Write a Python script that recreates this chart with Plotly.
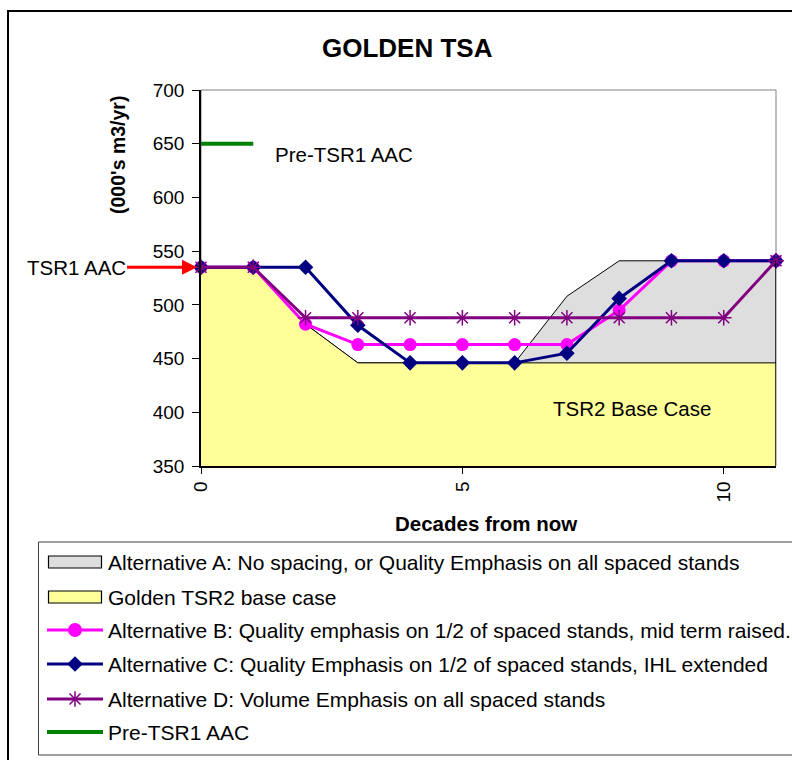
import plotly.graph_objects as go

# ---- data -------------------------------------------------------------
decades = [0, 1, 2, 3, 4, 5, 6, 7, 8, 9, 10, 11]
alt_a = [535, 535, 482, 446, 446, 446, 446, 508, 541, 541, 541, 541]
base_case = [535, 535, 482, 446, 446, 446, 446, 446, 446, 446, 446, 446]
alt_b = [535, 535, 482, 463, 463, 463, 463, 463, 495, 541, 541, 541]
alt_c = [535, 535, 535, 481, 446, 446, 446, 455, 506, 541, 541, 541]
alt_d = [535, 535, 488, 488, 488, 488, 488, 488, 488, 488, 488, 541]
pre_tsr1_x = [0, 1]
pre_tsr1 = [650, 650]
tsr1_aac = 535

x_ticks = [0, 5, 10]
y_min, y_max, y_step = 350, 700, 50

legend_labels = [
    "Alternative A: No spacing, or Quality Emphasis on all spaced stands",
    "Golden TSR2 base case",
    "Alternative B: Quality emphasis on 1/2 of spaced stands, mid term raised.",
    "Alternative C: Quality Emphasis on 1/2 of spaced stands, IHL extended",
    "Alternative D: Volume Emphasis on all spaced stands",
    "Pre-TSR1 AAC",
]

# ---- styles -----------------------------------------------------------
W, H = 792, 760
FONT = "Liberation Sans, Arial, sans-serif"
GREY_FILL = "#DEDEDE"
YELLOW_FILL = "#FFFF99"
PINK = "#FF00FF"
NAVY = "#000080"
PURPLE = "#800080"
GREEN = "#008000"

fig = go.Figure()

# area series
fig.add_trace(go.Scatter(x=decades, y=alt_a, mode="lines", fill="tozeroy",
                         fillcolor=GREY_FILL, line=dict(color="black", width=1),
                         hoverinfo="skip"))
fig.add_trace(go.Scatter(x=decades, y=base_case, mode="lines", fill="tozeroy",
                         fillcolor=YELLOW_FILL, line=dict(color="black", width=1),
                         hoverinfo="skip"))

# line series
fig.add_trace(go.Scatter(x=decades, y=alt_b, mode="lines+markers", cliponaxis=False,
                         line=dict(color=PINK, width=3),
                         marker=dict(symbol="circle", size=13, color=PINK)))
fig.add_trace(go.Scatter(x=decades, y=alt_c, mode="lines+markers", cliponaxis=False,
                         line=dict(color=NAVY, width=3),
                         marker=dict(symbol="diamond", size=12, color=NAVY)))
fig.add_trace(go.Scatter(x=decades, y=alt_d, mode="lines+markers", cliponaxis=False,
                         line=dict(color=PURPLE, width=3),
                         marker=dict(symbol="asterisk-open", size=13, color=PURPLE,
                                     line=dict(color=PURPLE, width=1.5))))
fig.add_trace(go.Scatter(x=pre_tsr1_x, y=pre_tsr1, mode="lines", cliponaxis=False,
                         line=dict(color=GREEN, width=4)))

# ---- legend drawn on a pixel-coordinate overlay -----------------------
row_y = [562, 597, 630, 664, 699, 732]
sw_x0, sw_x1, sw_mid = 47, 103, 75
text_x = 106

shapes = []
# outer chart border
shapes.append(dict(type="rect", xref="x2", yref="y2", x0=8, x1=800, y0=11, y1=800,
                   line=dict(color="black", width=2), fillcolor="rgba(0,0,0,0)"))
# legend frame
shapes.append(dict(type="rect", xref="x2", yref="y2", x0=38.5, x1=800, y0=542, y1=755,
                   line=dict(color="#404040", width=1), fillcolor="rgba(0,0,0,0)"))
# fill swatches
for yy, col in zip(row_y[:2], [GREY_FILL, YELLOW_FILL]):
    shapes.append(dict(type="rect", xref="x2", yref="y2", x0=48.5, x1=101.5,
                       y0=yy - 6, y1=yy + 6, fillcolor=col,
                       line=dict(color="black", width=1.2)))

line_rows = [
    (row_y[2], PINK, 3, dict(symbol="circle", size=14, color=PINK)),
    (row_y[3], NAVY, 3, dict(symbol="diamond", size=12, color=NAVY)),
    (row_y[4], PURPLE, 3, dict(symbol="asterisk-open", size=13, color=PURPLE,
                               line=dict(color=PURPLE, width=1.5))),
]
for yy, col, lw, mk in line_rows:
    fig.add_trace(go.Scatter(x=[sw_x0, sw_x1], y=[yy, yy], mode="lines",
                             line=dict(color=col, width=lw),
                             xaxis="x2", yaxis="y2", hoverinfo="skip"))
    fig.add_trace(go.Scatter(x=[sw_mid], y=[yy], mode="markers", marker=mk,
                             xaxis="x2", yaxis="y2", hoverinfo="skip"))
fig.add_trace(go.Scatter(x=[sw_x0, sw_x1], y=[row_y[5], row_y[5]], mode="lines",
                         line=dict(color=GREEN, width=4),
                         xaxis="x2", yaxis="y2", hoverinfo="skip"))

# plot-area frame (grey) and right edge of the area series
shapes.append(dict(type="rect", xref="x domain", yref="y domain", x0=0, x1=1, y0=0, y1=1,
                   line=dict(color="#808080", width=1), layer="below"))
shapes.append(dict(type="line", xref="x", yref="y", x0=decades[-1], x1=decades[-1],
                   y0=y_min, y1=alt_a[-1], line=dict(color="black", width=1.5)))

annotations = []
for yy, lab in zip(row_y, legend_labels):
    annotations.append(dict(xref="x2", yref="y2", x=text_x, y=yy, text=lab,
                            showarrow=False, xanchor="left", yanchor="middle",
                            font=dict(size=21)))

# titles and labels
annotations.append(dict(xref="x2", yref="y2", x=407, y=48, text="<b>GOLDEN TSA</b>",
                        showarrow=False, font=dict(size=26)))
annotations.append(dict(xref="x2", yref="y2", x=118, y=155, text="<b>(000's m3/yr)</b>",
                        showarrow=False, textangle=-90, font=dict(size=19.5)))
annotations.append(dict(xref="x2", yref="y2", x=486, y=523, text="<b>Decades from now</b>",
                        showarrow=False, font=dict(size=20.5)))
annotations.append(dict(xref="x2", yref="y2", x=344, y=154, text="Pre-TSR1 AAC",
                        showarrow=False, font=dict(size=20.5)))
annotations.append(dict(xref="x2", yref="y2", x=632, y=408, text="TSR2 Base Case",
                        showarrow=False, font=dict(size=20.5)))
annotations.append(dict(xref="x", yref="y", x=0, y=tsr1_aac, text="TSR1 AAC",
                        showarrow=True, ax=-125, ay=0, arrowcolor="#FF0000",
                        arrowwidth=3, arrowhead=2, arrowsize=1, standoff=4,
                        font=dict(size=20.5)))

fig.update_layout(
    width=W, height=H,
    margin=dict(l=0, r=0, t=0, b=0, pad=0, autoexpand=False),
    paper_bgcolor="white",
    plot_bgcolor="rgba(0,0,0,0)",
    showlegend=False,
    font=dict(family=FONT, color="black", size=20),
    xaxis=dict(domain=[201 / W, 776 / W], range=[decades[0], decades[-1]],
               tickvals=x_ticks, tickangle=-90, ticks="outside", ticklen=6,
               tickcolor="black", showline=True, linecolor="black", linewidth=1.5,
               showgrid=False, zeroline=False, tickfont=dict(size=19), anchor="y",
               automargin=False, fixedrange=True),
    yaxis=dict(domain=[(H - 466) / H, (H - 90) / H], range=[y_min, y_max],
               dtick=y_step, tick0=y_min, ticks="outside", ticklen=7,
               tickcolor="black", showline=True, linecolor="black", linewidth=1.5,
               showgrid=False, zeroline=False, tickfont=dict(size=19), anchor="x",
               ticklabelstandoff=4, automargin=False, fixedrange=True),
    xaxis2=dict(domain=[0, 1], range=[0, W], visible=False, anchor="y2",
                automargin=False, fixedrange=True),
    yaxis2=dict(domain=[0, 1], range=[H, 0], visible=False, anchor="x2",
                automargin=False, fixedrange=True),
    shapes=shapes,
    annotations=annotations,
)

fig.write_html("out.html")
